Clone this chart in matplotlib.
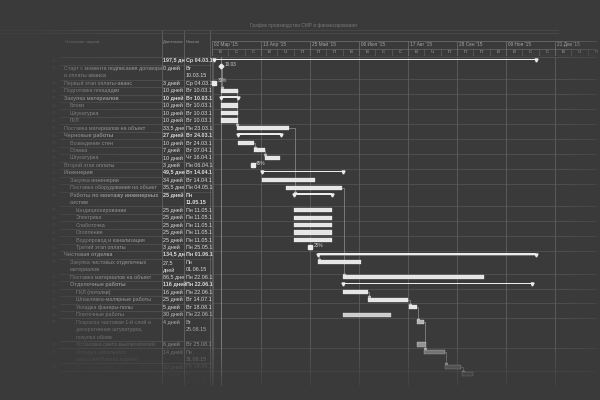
import numpy as np
import pandas as pd
import matplotlib
matplotlib.use("Agg")
import matplotlib.pyplot as plt
import matplotlib.dates as mdates
from matplotlib.lines import Line2D

plt.rcParams['font.family'] = ['Liberation Sans', 'DejaVu Sans']

# --- data ---
names = ["", "Старт с момента подписания договора\nи оплаты аванса", "Первый этап оплаты-аванс",
         "Подготовка площадки", "Закупка материалов", "Блоки", "Штукатурка", "ГКЛ",
         "Поставка материалов на объект", "Черновые работы", "Возведение стен", "Стяжка",
         "Штукатурка", "Второй этап оплаты", "Инженерия", "Закупка инженерии",
         "Поставка оборудования на объект", "Работы по монтажу инженерных\nсистем",
         "Кондиционирование", "Электрика", "Слаботочка", "Отопление",
         "Водопровод и канализация", "Третий этап оплаты", "Чистовая отделка",
         "Закупка чистовых отделочных\nматериалов", "Поставка материалов на объект",
         "Отделочные работы", "ГКЛ (потолки)", "Шпаклевка-малярные работы",
         "Укладка фанеры-полы", "Плиточные работы",
         "Покраска чистовая 1-й слой и\nдекоративная штукатурка,\nпокупка обоев",
         "Установка свето.выключателей", "Укладка напольного\nпокрытия(Плитка,паркет)",
         "Монтаж дверей", "Монтаж сантехники (Унитазы,\nРаковины, Ванны)"]
levels = [0, 0, 0, 0, 0, 1, 1, 1, 0, 0, 1, 1, 1, 0, 0, 1, 1, 1, 2, 2, 2, 2, 2, 2,
          0, 1, 1, 1, 2, 2, 2, 2, 2, 2, 2, 2, 2]
durations = ["197,5 дн", "0 дней", "3 дней", "10 дней", "10 дней", "10 дней", "10 дней",
             "10 дней", "33,5 дне", "27 дней", "10 дней", "7 дней", "10 дней", "3 дней",
             "49,5 дне", "34 дней", "35,5 дне", "25 дней", "25 дней", "25 дней", "25 дней",
             "25 дней", "25 дней", "3 дней", "134,5 дн", "27,5\nдней", "86,5 дне",
             "116 дней", "16 дней", "25 дней", "5 дней", "30 дней", "4 дней", "6 дней",
             "14 дней", "10 дней", "7 дней"]
start_txt = ["Ср 04.03.1", "Вт\n10.03.15", "Ср 04.03.1", "Вт 10.03.1", "Вт 10.03.1",
             "Вт 10.03.1", "Вт 10.03.1", "Вт 10.03.1", "Пн 23.03.1", "Вт 24.03.1",
             "Вт 24.03.1", "Вт 07.04.1", "Чт 16.04.1", "Пн 06.04.1", "Вт 14.04.1",
             "Вт 14.04.1", "Пн 04.05.1", "Пн\n11.05.15", "Пн 11.05.1", "Пн 11.05.1",
             "Пн 11.05.1", "Пн 11.05.1", "Пн 11.05.1", "Пн 25.05.1", "Пн 01.06.1",
             "Пн\n01.06.15", "Пн 22.06.1", "Пн 22.06.1", "Пн 22.06.1", "Вт 14.07.1",
             "Вт 18.08.1", "Пн 22.06.1", "Вт\n25.08.15", "Вт 25.08.1", "Пн\n31.08.15",
             "Пт 18.09.1", "Пт\n02.10.15"]
kinds = ["sum", "ms", "pay", "task", "sum", "task", "task", "task", "task", "sum", "task",
         "task", "task", "pay", "sum", "task", "task", "sum", "task", "task", "task", "task",
         "task", "pay", "sum", "task", "task", "sum", "task", "task", "task", "task", "task",
         "task", "task", "task", "task"]
starts = ["2015-03-04", "2015-03-10", "2015-03-04", "2015-03-10", "2015-03-10", "2015-03-10",
          "2015-03-10", "2015-03-10", "2015-03-23", "2015-03-24", "2015-03-24", "2015-04-07",
          "2015-04-16", "2015-04-06", "2015-04-14", "2015-04-14", "2015-05-04", "2015-05-11",
          "2015-05-11", "2015-05-11", "2015-05-11", "2015-05-11", "2015-05-11", "2015-05-25",
          "2015-06-01", "2015-06-01", "2015-06-22", "2015-06-22", "2015-06-22", "2015-07-14",
          "2015-08-18", "2015-06-22", "2015-08-25", "2015-08-25", "2015-08-31", "2015-09-18",
          "2015-10-02"]
ends = ["2015-12-05", "2015-03-10", "2015-03-06", "2015-03-24", "2015-03-24", "2015-03-24",
        "2015-03-24", "2015-03-24", "2015-05-07", "2015-04-30", "2015-04-07", "2015-04-16",
        "2015-04-29", "2015-04-08", "2015-06-22", "2015-05-29", "2015-06-21", "2015-06-13",
        "2015-06-13", "2015-06-13", "2015-06-13", "2015-06-13", "2015-06-13", "2015-05-27",
        "2015-12-05", "2015-07-08", "2015-10-21", "2015-12-01", "2015-07-14", "2015-08-17",
        "2015-08-25", "2015-08-02", "2015-08-31", "2015-09-01", "2015-09-18", "2015-10-01",
        "2015-10-12"]
pay_labels = {1: "10.03", 2: "30%", 13: "45%", 23: "25%"}
links = [(1, 3), (3, 8), (10, 11), (11, 12), (8, 17), (16, 26), (28, 29), (29, 30),
         (30, 32), (32, 34), (34, 35), (35, 36), (24, 25)]

tiers = ["02 Мар '15", "13 Апр '15", "25 Май '15", "06 Июл '15", "17 Авг '15",
         "28 Сен '15", "09 Ноя '15", "21 Дек '15"]
sub_letters = ["В", "С", "С", "В", "Ч", "П", "П", "П", "В", "В", "С", "С", "В", "Ч",
               "П", "П", "П", "В", "В", "С", "С", "В", "Ч", "П"]

BG = "#3a3a3a"
GRID = "#575757"
TXT = "#cfcfcf"

s = mdates.date2num(pd.to_datetime(starts))
e = mdates.date2num(pd.to_datetime(ends))
nlines = np.array([n.count("\n") + 1 for n in names])
tops = np.concatenate([[0], np.cumsum(nlines)[:-1]])
yc = tops + 0.5
total = nlines.sum()

fig = plt.figure(figsize=(6, 4), dpi=100, facecolor=BG)


def px_axes(x0, y0, x1, y1, **kw):
    a = fig.add_axes([x0 / 600, 1 - y1 / 400, (x1 - x0) / 600, (y1 - y0) / 400], **kw)
    a.set_facecolor(BG)
    a.set_axis_off()
    return a


# fade of rows toward the bottom
def shade(i):
    return max(0.35, 1 - max(0, i - 30) * 0.11)


t0 = mdates.date2num(pd.Timestamp("2015-03-02"))
t1 = t0 + 385 / 1.167

# ---------- gantt ----------
ax = px_axes(212, 57, 597, 60 + total * 7.4)
ax.set_xlim(t0, t1)
ax.set_ylim(total, 0)
for k, b in enumerate(np.concatenate([tops, [total]])):
    if k % 2 == 0:
        ax.axhline(b, color=GRID, lw=0.5, zorder=0)
for m in range(8):
    ax.axvline(t0 + 42 * m, color="#5e5e5e", lw=0.6, zorder=0)
ax.axvline(t0 + 0.6, color="#5e5e5e", lw=0.6, zorder=0)
ax.axvline(mdates.date2num(pd.Timestamp("2015-03-10")), color="#8a8a8a", lw=0.6, zorder=0)

for i, k in enumerate(kinds):
    c = str(0.9 * shade(i))
    if k == "task":
        ax.barh(yc[i], e[i] - s[i], left=s[i], height=0.55, color=c, edgecolor="#f4f4f4",
                lw=0.2, zorder=3)
    elif k == "sum":
        ax.barh(yc[i] - 0.15, e[i] - s[i], left=s[i], height=0.22, color="#ececec", zorder=3)
        ax.plot([s[i], e[i]], [yc[i] - 0.05] * 2, "v", ms=2.2, color="#ececec", zorder=4)
    elif k == "ms":
        ax.plot(s[i], yc[i] - 0.3, "D", ms=2.4, color="#ececec", zorder=4)
        ax.text(s[i] + 3, yc[i] - 0.5, pay_labels[i], fontsize=3.4, color=TXT, va="center")
    else:
        ax.plot(s[i], yc[i], "s", ms=3.0, color="#ececec", zorder=4)
        ax.text(s[i] + 3, yc[i] - 0.3, pay_labels[i], fontsize=3.4, color=TXT, va="center")

for a, b in links:
    x = s[b]
    ax.plot([e[a], x + 0.8, x + 0.8], [yc[a], yc[a], yc[b] - 0.35], color="#9a9a9a",
            lw=0.45, zorder=2)
    ax.plot(x + 0.8, yc[b] - 0.35, "v", ms=1.6, color="#bcbcbc", zorder=2)

# ---------- timescale header ----------
hx = px_axes(212, 41, 597, 56)
hx.set_xlim(t0, t1)
hx.set_ylim(2, 0)
hx.axhline(0, color="#6a6a6a", lw=0.6)
hx.axhline(1, color="#6a6a6a", lw=0.5)
hx.axhline(2, color="#8a8a8a", lw=0.8)
for m, lab in enumerate(tiers):
    x = t0 + 42 * m
    hx.plot([x, x], [0, 2], color="#6a6a6a", lw=0.6)
    hx.text(x + 1.5, 0.5, lab, fontsize=3.4, color="#a8a8a8", va="center")
for j, lab in enumerate(sub_letters):
    x = t0 + 14 * j
    hx.plot([x, x], [1, 2], color="#6a6a6a", lw=0.4)
    hx.text(x + 7, 1.5, lab, fontsize=3.2, color="#a8a8a8", va="center", ha="center")

# ---------- table ----------
tb = px_axes(38, 30, 212, 60 + total * 7.4)
tb.set_xlim(38, 212)
tb.set_ylim(total, -27 / 7.4)
tb.text(65, -2.1, "Название задачи", fontsize=3.2, color="#7a7a7a", va="center")
tb.text(162.8, -2.1, "Длительнос", fontsize=2.7, color="#9a9a9a", va="center")
tb.text(185.5, -2.1, "Начало", fontsize=2.9, color="#9a9a9a", va="center")
tb.axhline(-27 / 7.4 + 0.05, xmin=0.1, color="#555555", lw=0.5)
for b in np.concatenate([[0], tops[1:], [total]]):
    tb.plot([60, 212], [b, b], color=GRID, lw=0.45, zorder=0)
for x in (162, 184, 210):
    tb.plot([x, x], [-27 / 7.4, total], color="#6a6a6a", lw=0.5, zorder=0)

for i in range(len(names)):
    f = shade(i)
    wt = "bold" if kinds[i] == "sum" else "normal"
    for k, line in enumerate(names[i].split("\n")):
        tb.text(64 + 6 * levels[i], tops[i] + k + 0.5, line, fontsize=3.9, va="center",
                color=str(0.6 * f), fontweight=wt)
    for k, line in enumerate(durations[i].split("\n")):
        tb.text(163, tops[i] + k + 0.5, line, fontsize=3.9, va="center",
                color=str(0.86 * f), fontweight=wt)
    for k, line in enumerate(start_txt[i].split("\n")):
        tb.text(185.5, tops[i] + k + 0.5, line, fontsize=3.9, va="center",
                color=str(0.86 * f), fontweight=wt)
    tb.text(52, tops[i] + 0.5, "0%", fontsize=2.8, va="center", color="#595959")

# ---------- title ----------
fig.text(250 / 600, 1 - 25 / 400, "График производства СМР и финансирования",
         fontsize=3.5, color="#777777", va="center")
for yy in (30, 33):
    fig.add_artist(Line2D([0.0, 0.93], [1 - yy / 400] * 2, color="#4a4a4a", lw=0.6))

# ---------- vignette ----------
ov = fig.add_axes([0, 0, 1, 1], zorder=10)
ov.set_axis_off()
X, Y = np.meshgrid(np.arange(600), np.arange(400))
a_left = np.clip((120 - X) / 90, 0, 1) * 0.6
a_bot = np.clip((Y - 340) / 50, 0, 1) * 0.85
a_right = np.clip((X - 565) / 35, 0, 1) * 0.5
alpha = 1 - (1 - a_left) * (1 - a_bot) * (1 - a_right)
rgba = np.zeros((400, 600, 4))
rgba[..., :3] = matplotlib.colors.to_rgb(BG)
rgba[..., 3] = alpha
ov.imshow(rgba, aspect="auto", extent=(0, 600, 400, 0))
ov.set_xlim(0, 600)
ov.set_ylim(400, 0)

fig.savefig("out.png", dpi=100, facecolor=BG)
